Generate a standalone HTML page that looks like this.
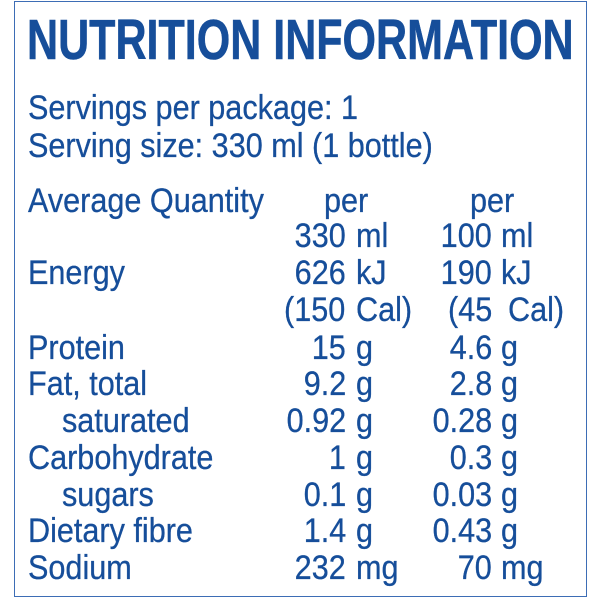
<!DOCTYPE html>
<html><head><style>
html,body{margin:0;padding:0;background:#fff;}
#c{position:relative;width:600px;height:600px;overflow:hidden;font-family:"Liberation Sans Narrow","Liberation Sans",sans-serif;color:#164e9a;}
.b{position:absolute;left:14px;top:1px;width:571px;height:594px;border:1.5px solid #3d6db5;}
.t{position:absolute;white-space:nowrap;font-size:34px;line-height:33px;-webkit-text-stroke:0.3px #164e9a;}
.l{transform:scaleX(0.9);transform-origin:left;}
.r{transform:scaleX(0.9);transform-origin:right;text-align:right;}
.h{font-weight:bold;font-size:57px;line-height:56px;transform:scaleX(0.755);transform-origin:left;-webkit-text-stroke:0.6px #164e9a;}
</style></head><body><div id="c">
<div class="b"></div>
<div class="t h" style="left:27px;top:12px">NUTRITION INFORMATION</div>
<div class="t l" style="left:28px;top:92px">Servings per package: 1</div>
<div class="t l" style="left:28px;top:130px">Serving size: 330 ml (1 bottle)</div>
<div class="t l" style="left:28px;top:185px">Average Quantity</div>
<div class="t l" style="left:324px;top:185px">per</div>
<div class="t l" style="left:470px;top:185px">per</div>
<div class="t r" style="right:254px;top:220px">330</div><div class="t l" style="left:356px;top:220px">ml</div>
<div class="t r" style="right:108px;top:220px">100</div><div class="t l" style="left:501px;top:220px">ml</div>
<div class="t l" style="left:28px;top:257px">Energy</div>
<div class="t r" style="right:254px;top:257px">626</div><div class="t l" style="left:356px;top:257px">kJ</div>
<div class="t r" style="right:108px;top:257px">190</div><div class="t l" style="left:501px;top:257px">kJ</div>
<div class="t l" style="left:284px;top:294px">(150</div><div class="t l" style="left:356px;top:294px">Cal)</div>
<div class="t l" style="left:448px;top:294px">(45</div><div class="t l" style="left:508px;top:294px">Cal)</div>
<div class="t l" style="left:28px;top:332px">Protein</div>
<div class="t r" style="right:254px;top:332px">15</div><div class="t l" style="left:356px;top:332px">g</div>
<div class="t r" style="right:108px;top:332px">4.6</div><div class="t l" style="left:501px;top:332px">g</div>
<div class="t l" style="left:28px;top:368px">Fat, total</div>
<div class="t r" style="right:254px;top:368px">9.2</div><div class="t l" style="left:356px;top:368px">g</div>
<div class="t r" style="right:108px;top:368px">2.8</div><div class="t l" style="left:501px;top:368px">g</div>
<div class="t l" style="left:62px;top:405px">saturated</div>
<div class="t r" style="right:254px;top:405px">0.92</div><div class="t l" style="left:356px;top:405px">g</div>
<div class="t r" style="right:108px;top:405px">0.28</div><div class="t l" style="left:501px;top:405px">g</div>
<div class="t l" style="left:28px;top:442px">Carbohydrate</div>
<div class="t r" style="right:254px;top:442px">1</div><div class="t l" style="left:356px;top:442px">g</div>
<div class="t r" style="right:108px;top:442px">0.3</div><div class="t l" style="left:501px;top:442px">g</div>
<div class="t l" style="left:62px;top:479px">sugars</div>
<div class="t r" style="right:254px;top:479px">0.1</div><div class="t l" style="left:356px;top:479px">g</div>
<div class="t r" style="right:108px;top:479px">0.03</div><div class="t l" style="left:501px;top:479px">g</div>
<div class="t l" style="left:28px;top:515px">Dietary fibre</div>
<div class="t r" style="right:254px;top:515px">1.4</div><div class="t l" style="left:356px;top:515px">g</div>
<div class="t r" style="right:108px;top:515px">0.43</div><div class="t l" style="left:501px;top:515px">g</div>
<div class="t l" style="left:28px;top:552px">Sodium</div>
<div class="t r" style="right:254px;top:552px">232</div><div class="t l" style="left:356px;top:552px">mg</div>
<div class="t r" style="right:108px;top:552px">70</div><div class="t l" style="left:501px;top:552px">mg</div>
</div></body></html>
